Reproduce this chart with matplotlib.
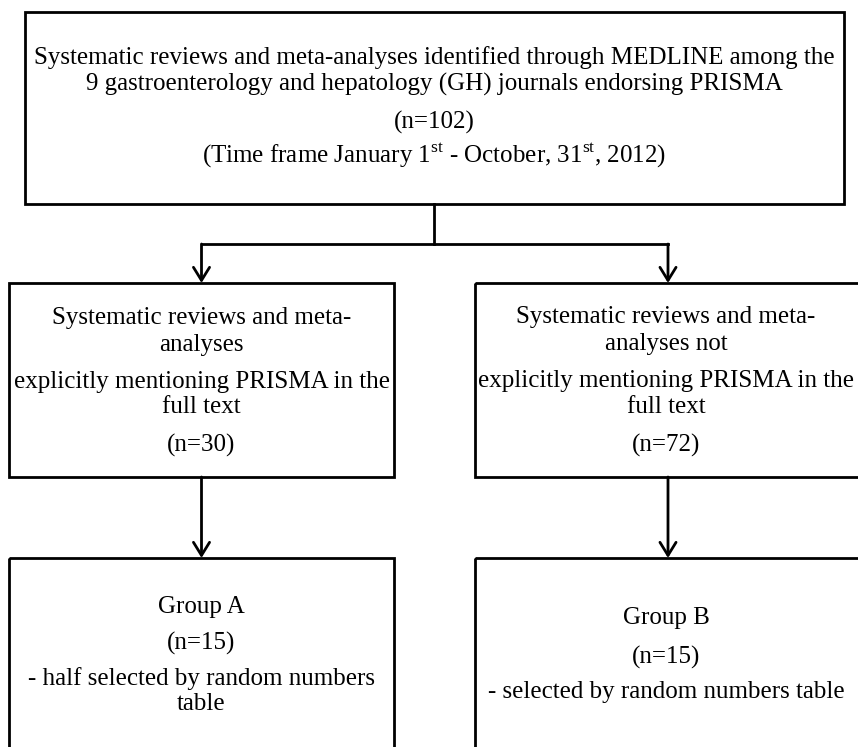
import matplotlib
matplotlib.use("Agg")
import matplotlib.pyplot as plt
from matplotlib.patches import Rectangle

plt.rcParams['font.family'] = ['Liberation Serif', 'DejaVu Serif']
plt.rcParams['mathtext.fontset'] = 'custom'
plt.rcParams['mathtext.rm'] = 'Liberation Serif'

# text of each box, one entry per line
top_lines = [
    "Systematic reviews and meta-analyses identified through MEDLINE among the",
    "9 gastroenterology and hepatology (GH) journals endorsing PRISMA",
    "(n=102)",
    r"(Time frame January 1$^{\mathrm{st}}$ - October, 31$^{\mathrm{st}}$, 2012)",
]
mid_left_lines = [
    "Systematic reviews and meta-",
    "analyses",
    "explicitly mentioning PRISMA in the",
    "full text",
    "(n=30)",
]
mid_right_lines = [
    "Systematic reviews and meta-",
    "analyses not",
    "explicitly mentioning PRISMA in the",
    "full text",
    "(n=72)",
]
bot_left_lines = [
    "Group A",
    "(n=15)",
    "- half selected by random numbers",
    "table",
]
bot_right_lines = [
    "Group B",
    "(n=15)",
    "- selected by random numbers table",
]

# layout in pixel units (y grows downwards)
top_box = (25, 12, 844, 204)
mid_left_box = (9, 283, 394, 477)
mid_right_box = (475, 283, 861, 477)
bot_left_box = (9, 558, 394, 760)
bot_right_box = (475, 558, 861, 760)

top_y = [58, 84, 122, 155]
mid_y = [318, 345, 382, 407, 445]
mid_right_y = [317, 344, 381, 407, 445]
bot_left_y = [607, 643, 679, 704]
bot_right_y = [618, 657, 692]

fs = 18
lw = 2.0

fig = plt.figure(figsize=(8.58, 7.47), dpi=100)
ax = fig.add_axes([0, 0, 1, 1])
ax.set_xlim(0, 858)
ax.set_ylim(747, 0)
ax.axis('off')


def draw_box(box, lines, ys, cx=None):
    x0, y0, x1, y1 = box
    ax.add_patch(Rectangle((x0, y0), x1 - x0, y1 - y0, fill=False,
                           edgecolor='black', linewidth=lw))
    if cx is None:
        cx = (x0 + x1) / 2
    for txt, y in zip(lines, ys):
        ax.text(cx, y, txt, ha='center', va='center', fontsize=fs)


def arrow(x, y0, y1):
    ax.annotate('', xy=(x, y1), xytext=(x, y0),
                arrowprops=dict(arrowstyle='->,head_length=0.47,head_width=0.29',
                                mutation_scale=20, lw=lw, color='black',
                                shrinkA=0, shrinkB=0))


draw_box(top_box, top_lines, top_y)
draw_box(mid_left_box, mid_left_lines, mid_y)
# right column text sits a little left so it stays inside the page
draw_box(mid_right_box, mid_right_lines, mid_right_y, cx=666)
draw_box(bot_left_box, bot_left_lines, bot_left_y)
draw_box(bot_right_box, bot_right_lines, bot_right_y, cx=666)

left_x = (mid_left_box[0] + mid_left_box[2]) / 2
right_x = (mid_right_box[0] + mid_right_box[2]) / 2
split_y = 244

# connector from the top box to the two branches
ax.plot([434, 434], [top_box[3], split_y], color='black', lw=lw)
ax.plot([left_x, right_x], [split_y, split_y], color='black', lw=lw)
arrow(left_x, split_y, mid_left_box[1])
arrow(right_x, split_y, mid_right_box[1])
arrow(left_x, mid_left_box[3], bot_left_box[1])
arrow(right_x, mid_right_box[3], bot_right_box[1])

fig.savefig('out.png', dpi=100)
